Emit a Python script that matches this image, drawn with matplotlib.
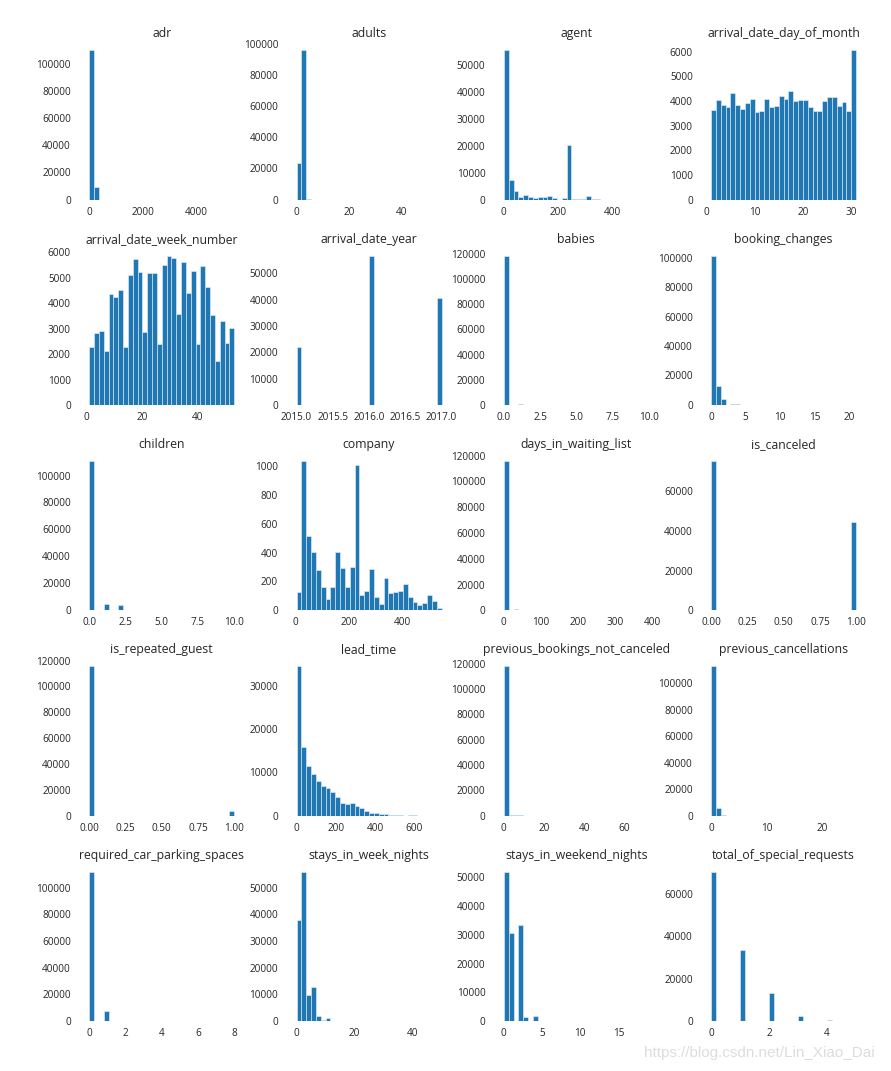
import numpy as np
import matplotlib
matplotlib.use("Agg")
import matplotlib.pyplot as plt

plt.rcParams['font.family'] = ['Open Sans', 'DejaVu Sans']

# ---------------- binned columns: (min, max) and 30 bin counts ----------------
adr_range = (-6.38, 5400)
adr_counts = [110030, 9330, 29] + [0] * 26 + [1]

agent_range = (1, 535)
agent_counts = [55500, 7350, 3300, 1100, 1840, 1100, 740, 1100, 1100, 1470,
                740, 30, 740, 20200, 370, 370, 300, 1470, 300, 40,
                10, 5, 0, 0, 0, 0, 0, 0, 0, 5]

week_range = (1, 53)
week_counts = [2280, 2837, 2915, 2137, 4352, 4236, 4508, 2293, 5091, 5751,
               5207, 2876, 5168, 5168, 2409, 5518, 5868, 5790, 3575, 5635,
               4391, 5246, 2409, 5479, 4624, 3536, 1710, 3303, 2448, 3031]

company_range = (6, 543)
company_counts = [126, 1037, 513, 402, 278, 161, 78, 161, 402, 292,
                  161, 299, 1009, 106, 133, 285, 92, 44, 223, 120,
                  126, 133, 182, 92, 57, 37, 51, 106, 64, 16]

waiting_range = (0, 391)
waiting_counts = [115800, 420, 700, 420, 560, 350, 300, 260, 150, 120,
                  40, 60, 80, 50, 70, 30, 0, 30, 0, 20,
                  0, 20, 0, 10, 0, 0, 0, 0, 0, 5]

lead_range = (0, 737)
lead_counts = [34540, 15850, 11460, 9615, 8000, 6850, 6380, 5460, 4310, 2920,
               2690, 2920, 2230, 1770, 1080, 615, 615, 460, 385, 230,
               150, 150, 0, 80, 60, 0, 0, 0, 1, 1]

# ---------------- discrete columns: values and their counts ----------------
day_values = list(range(1, 32))
day_counts = [3626, 4055, 3855, 3763, 4317, 3833, 3665, 3921, 4096, 3575,
              3599, 4087, 3745, 3819, 4196, 4078, 4406, 4002, 4052, 4032,
              3767, 3596, 3616, 3993, 4160, 4147, 3802, 3946, 3580, 3853, 2208]

adults_values = [0, 1, 2, 3, 4, 5, 6, 10, 20, 26, 27, 40, 50, 55]
adults_counts = [403, 23027, 89680, 6202, 62, 2, 1, 1, 2, 5, 2, 1, 1, 1]

year_values = [2015, 2016, 2017]
year_counts = [21996, 56707, 40687]

babies_values = [0, 1, 2, 9, 10]
babies_counts = [118473, 900, 15, 1, 1]

changes_values = [0, 1, 2, 3, 4, 5, 6, 7, 8, 9, 10, 11, 12, 13, 14, 15, 16, 17, 18, 20, 21]
changes_counts = [101314, 12701, 3805, 927, 376, 118, 63, 31, 17, 8, 6, 2, 2, 5, 5, 3, 2, 2, 1, 1, 1]

children_values = [0, 1, 2, 3, 10]
children_counts = [110796, 4861, 3652, 76, 1]

canceled_values = [0, 1]
canceled_counts = [75166, 44224]

repeated_values = [0, 1]
repeated_counts = [115580, 3810]

prev_ok_values = [0, 1, 2, 3, 4, 5, 6, 7, 8, 9, 10, 12, 15, 20, 25, 30, 40, 50, 58, 66, 72]
prev_ok_counts = [115770, 1542, 580, 333, 229, 181, 115, 88, 70, 60, 53, 80, 60, 40, 30, 20, 10, 5, 3, 2, 1]

prev_cancel_values = [0, 1, 2, 3, 4, 5, 6, 11, 13, 14, 19, 21, 24, 25, 26]
prev_cancel_counts = [112906, 6051, 116, 65, 31, 19, 22, 35, 12, 14, 19, 1, 48, 25, 26]

parking_values = [0, 1, 2, 3, 8]
parking_counts = [111974, 7383, 28, 3, 2]

week_nights_values = [0, 1, 2, 3, 4, 5, 6, 7, 8, 9, 10, 11, 12, 13, 14, 15, 16, 17, 18, 19,
                      20, 21, 22, 24, 25, 26, 30, 32, 33, 34, 35, 40, 41, 42, 50]
week_nights_counts = [7645, 30310, 33684, 22258, 9563, 11077, 1499, 1029, 656, 231, 1036,
                      56, 42, 27, 35, 85, 16, 4, 6, 44, 41, 15, 7, 3, 6, 1, 5, 1, 1, 1, 1,
                      2, 1, 1, 1]

weekend_values = [0, 1, 2, 3, 4, 5, 6, 7, 8, 9, 10, 12, 13, 14, 16, 18, 19]
weekend_counts = [51998, 30626, 33308, 1259, 1855, 79, 153, 19, 60, 11, 7, 5, 3, 2, 3, 1, 1]

requests_values = [0, 1, 2, 3, 4, 5]
requests_counts = [70318, 33226, 12969, 2497, 340, 40]

columns = [
    ("adr", "binned", adr_range, adr_counts),
    ("adults", "discrete", adults_values, adults_counts),
    ("agent", "binned", agent_range, agent_counts),
    ("arrival_date_day_of_month", "discrete", day_values, day_counts),
    ("arrival_date_week_number", "binned", week_range, week_counts),
    ("arrival_date_year", "discrete", year_values, year_counts),
    ("babies", "discrete", babies_values, babies_counts),
    ("booking_changes", "discrete", changes_values, changes_counts),
    ("children", "discrete", children_values, children_counts),
    ("company", "binned", company_range, company_counts),
    ("days_in_waiting_list", "binned", waiting_range, waiting_counts),
    ("is_canceled", "discrete", canceled_values, canceled_counts),
    ("is_repeated_guest", "discrete", repeated_values, repeated_counts),
    ("lead_time", "binned", lead_range, lead_counts),
    ("previous_bookings_not_canceled", "discrete", prev_ok_values, prev_ok_counts),
    ("previous_cancellations", "discrete", prev_cancel_values, prev_cancel_counts),
    ("required_car_parking_spaces", "discrete", parking_values, parking_counts),
    ("stays_in_week_nights", "discrete", week_nights_values, week_nights_counts),
    ("stays_in_weekend_nights", "discrete", weekend_values, weekend_counts),
    ("total_of_special_requests", "discrete", requests_values, requests_counts),
]

fig, axes = plt.subplots(5, 4, figsize=(8.91, 10.71), dpi=100)
fig.subplots_adjust(left=0.092, right=0.969, bottom=0.0467, top=0.96,
                    wspace=0.3, hspace=0.31)

bar_color = '#1f77b4'
text_color = '#262626'

for ax, (name, kind, a, b) in zip(axes.ravel(), columns):
    if kind == "binned":
        edges = np.linspace(a[0], a[1], 31)
        ax.hist(edges[:-1], bins=edges, weights=b, color=bar_color,
                edgecolor='#e8f0f8', linewidth=0.4)
    else:
        ax.hist(a, bins=30, weights=b, color=bar_color,
                edgecolor='#e8f0f8', linewidth=0.4)
    ax.set_title(name, fontsize=8.8, pad=4, color=text_color)
    ax.tick_params(axis='both', length=0, labelsize=7.2, colors=text_color)
    ax.tick_params(axis='y', pad=8)
    ax.tick_params(axis='x', pad=5)
    for s in ax.spines.values():
        s.set_visible(False)
    ax.grid(False)

fig.text(0.982, 0.010, "https://blog.csdn.net/Lin_Xiao_Dai", ha='right', va='bottom',
         color='#dddddd', fontsize=11, family=['Liberation Sans', 'DejaVu Sans'])

fig.savefig("out.png", dpi=100, facecolor='white')
